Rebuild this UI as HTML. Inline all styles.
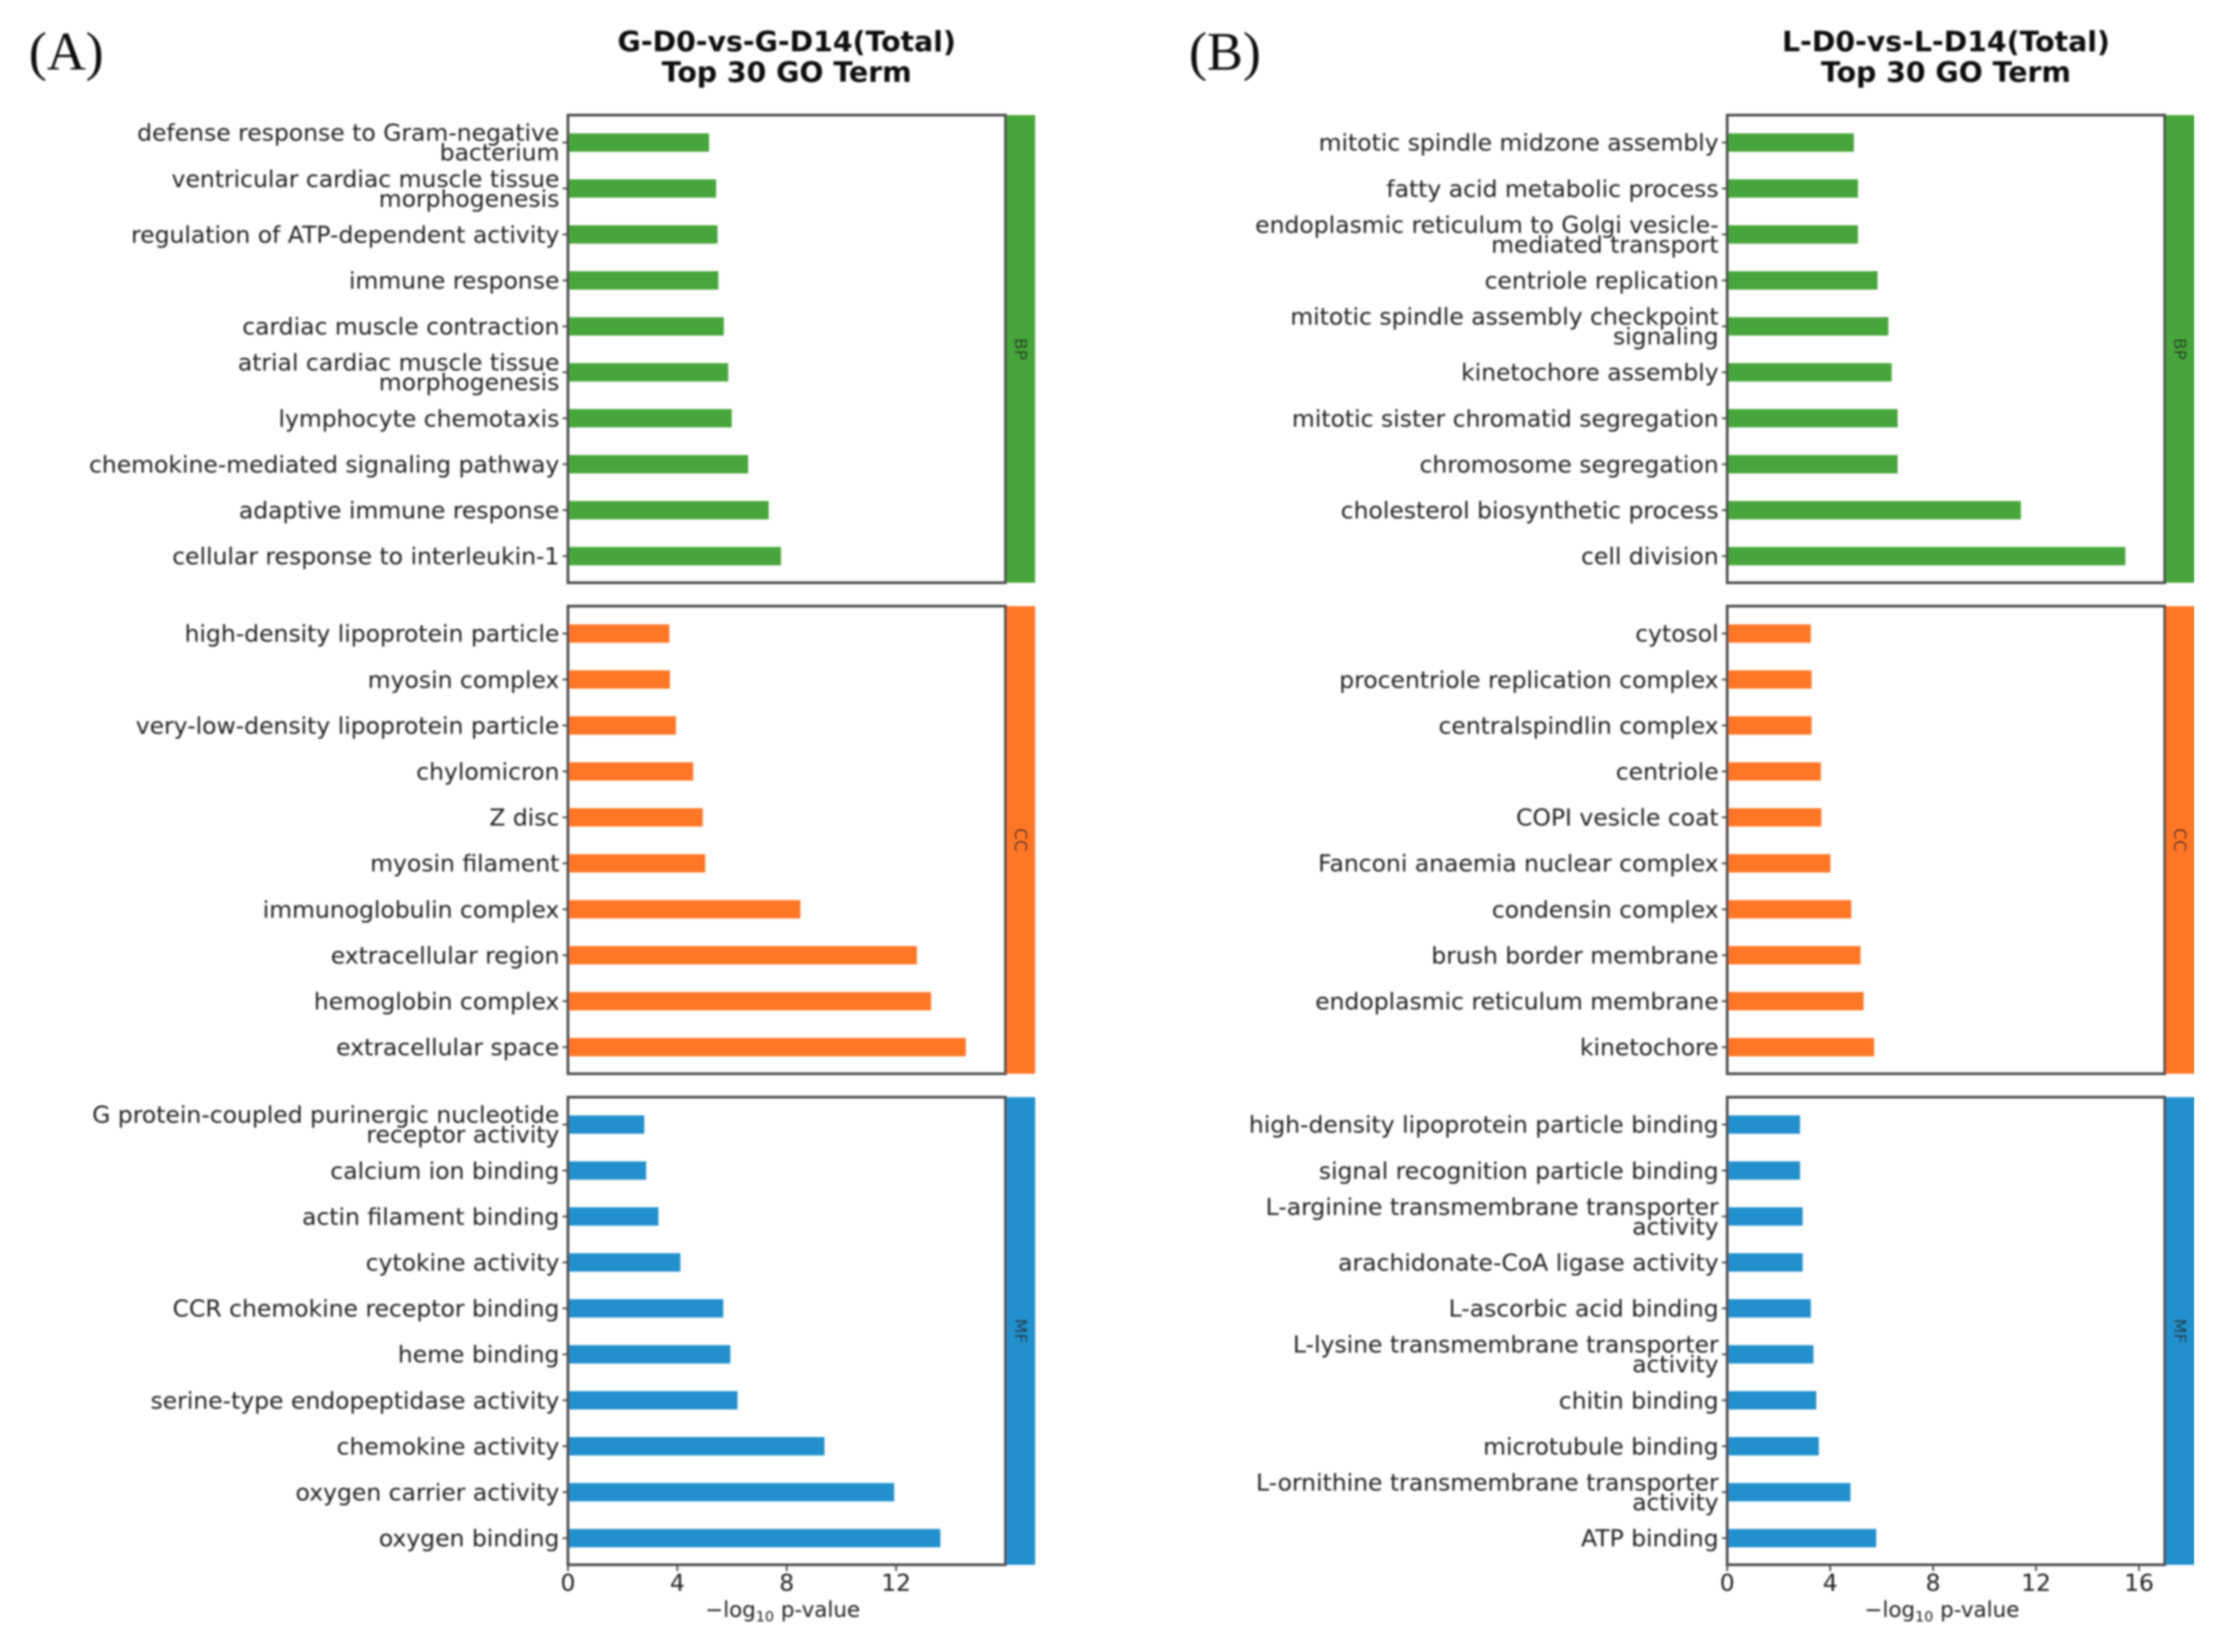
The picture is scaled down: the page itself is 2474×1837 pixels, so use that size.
<!DOCTYPE html>
<html lang="en">
<head>
<meta charset="utf-8">
<title>Top 30 GO Term comparison</title>
<style>
html,body{margin:0;padding:0;background:#fff;width:2474px;height:1837px;overflow:hidden}
svg{display:block}
text{font-family:"DejaVu Sans","Liberation Sans",sans-serif;fill:#222}
</style>
</head>
<body>
<svg id="figure" xmlns="http://www.w3.org/2000/svg" width="2474" height="1837" viewBox="0 0 2474 1837">
<defs><filter id="soft" x="0" y="0" width="100%" height="100%" filterUnits="objectBoundingBox"><feGaussianBlur stdDeviation="0.95"/></filter></defs>
<rect width="2474" height="1837" fill="#fff"/>
<g id="root" filter="url(#soft)"></g>
</svg>
<script>
// Terms and values, listed top to bottom. "|" marks a wrapped label line.
const aBpTerms = ["defense response to Gram-negative|bacterium","ventricular cardiac muscle tissue|morphogenesis","regulation of ATP-dependent activity","immune response","cardiac muscle contraction","atrial cardiac muscle tissue|morphogenesis","lymphocyte chemotaxis","chemokine-mediated signaling pathway","adaptive immune response","cellular response to interleukin-1"];
const aBpValues = [5.16,5.42,5.47,5.5,5.7,5.86,5.99,6.59,7.34,7.79];
const aCcTerms = ["high-density lipoprotein particle","myosin complex","very-low-density lipoprotein particle","chylomicron","Z disc","myosin filament","immunoglobulin complex","extracellular region","hemoglobin complex","extracellular space"];
const aCcValues = [3.71,3.73,3.95,4.58,4.93,5.02,8.5,12.76,13.28,14.55];
const aMfTerms = ["G protein-coupled purinergic nucleotide|receptor activity","calcium ion binding","actin filament binding","cytokine activity","CCR chemokine receptor binding","heme binding","serine-type endopeptidase activity","chemokine activity","oxygen carrier activity","oxygen binding"];
const aMfValues = [2.79,2.86,3.31,4.11,5.68,5.94,6.2,9.38,11.93,13.62];
const bBpTerms = ["mitotic spindle midzone assembly","fatty acid metabolic process","endoplasmic reticulum to Golgi vesicle-|mediated transport","centriole replication","mitotic spindle assembly checkpoint|signaling","kinetochore assembly","mitotic sister chromatid segregation","chromosome segregation","cholesterol biosynthetic process","cell division"];
const bBpValues = [4.92,5.08,5.08,5.84,6.26,6.39,6.62,6.62,11.41,15.47];
const bCcTerms = ["cytosol","procentriole replication complex","centralspindlin complex","centriole","COPI vesicle coat","Fanconi anaemia nuclear complex","condensin complex","brush border membrane","endoplasmic reticulum membrane","kinetochore"];
const bCcValues = [3.25,3.28,3.28,3.64,3.66,4.01,4.82,5.18,5.3,5.71];
const bMfTerms = ["high-density lipoprotein particle binding","signal recognition particle binding","L-arginine transmembrane transporter|activity","arachidonate-CoA ligase activity","L-ascorbic acid binding","L-lysine transmembrane transporter|activity","chitin binding","microtubule binding","L-ornithine transmembrane transporter|activity","ATP binding"];
const bMfValues = [2.83,2.83,2.93,2.93,3.25,3.35,3.46,3.56,4.79,5.79];
const aTicks = [0,4,8,12];
const bTicks = [0,4,8,12,16];
const aXMax = 16;
const bXMax = 17;
const aTitle = ["G-D0-vs-G-D14(Total)","Top 30 GO Term"];
const bTitle = ["L-D0-vs-L-D14(Total)","Top 30 GO Term"];

const NS = "http://www.w3.org/2000/svg";
const root = document.getElementById("root");
const COLORS = {BP:"#47a63a",CC:"#ff7726",MF:"#2090cc"};
const FRAME = "#4d4d4d";
const ROW_TOP = {BP:128,CC:674,MF:1220};
const ROW_H = 520;
const BAR_STEP = 51.1;
const BAR_H = 20.4;

function make(tag, attrs, text){
  const el = document.createElementNS(NS, tag);
  for (const k in attrs) el.setAttribute(k, attrs[k]);
  if (text !== undefined) el.textContent = text;
  root.appendChild(el);
  return el;
}
function xAxis(left, right, max){ return v => left + (v / max) * (right - left); }
function yAxis(top){ return i => top + 30.5 + i * BAR_STEP; }
function slug(s){ return s.replace(/\|/g," ").toLowerCase().replace(/[^a-z0-9]+/g,"-").replace(/^-|-$/g,""); }

function drawRow(p, key, terms, values){
  const top = ROW_TOP[key];
  const x = xAxis(p.left, p.right, p.max);
  const y = yAxis(top);
  const strip = make("rect",{x:p.right,y:top,width:p.stripRight-p.right,height:ROW_H,fill:COLORS[key]});
  
  
  const cy = top + ROW_H/2 - 0;
  const sx = (p.right + p.stripRight)/2;
  const sl = make("text",{x:sx,y:cy,"font-size":19,"text-anchor":"middle","dominant-baseline":"central",transform:"rotate(90 "+sx+" "+cy+")"},key);
  
  
  terms.forEach((term,i)=>{
    const yc = y(i);
    const bar = make("rect",{x:x(0),y:yc-BAR_H/2,width:x(values[i])-x(0),height:BAR_H,fill:COLORS[key]});
    
    
    const tick = make("line",{x1:p.left-6,x2:p.left,y1:yc,y2:yc,stroke:FRAME,"stroke-width":2});
    
    
    const lines = term.split("|");
    lines.forEach((ln,j)=>{
      const ly = yc + (j - (lines.length-1)/2) * 22;
      const t = make("text",{x:p.left-9.5,y:ly+1.2,"font-size":26.1,"text-anchor":"end","dominant-baseline":"central"},ln);
      
      
    });
  });
  const frame = make("rect",{x:p.left,y:top,width:p.right-p.left,height:ROW_H,fill:"none",stroke:FRAME,"stroke-width":3});
  
  
}

function drawPanel(p){
  drawRow(p,"BP",p.bp[0],p.bp[1]);
  drawRow(p,"CC",p.cc[0],p.cc[1]);
  drawRow(p,"MF",p.mf[0],p.mf[1]);
  const x = xAxis(p.left,p.right,p.max);
  const bottom = ROW_TOP.MF + ROW_H;
  p.ticks.forEach(v=>{
    const tk = make("line",{x1:x(v),x2:x(v),y1:bottom,y2:bottom+7,stroke:FRAME,"stroke-width":2});
    
    
    const tl = make("text",{x:x(v),y:bottom+21,"font-size":26,"text-anchor":"middle","dominant-baseline":"central"},String(v));
    
    
  });
  const cx = (p.left+p.right)/2;
  const xl = make("text",{x:cx-4.5,y:1798,"font-size":23.8,"text-anchor":"middle"});
  
  
  const a = document.createElementNS(NS,"tspan"); a.textContent="\u2212log"; xl.appendChild(a);
  const b = document.createElementNS(NS,"tspan"); b.textContent="10"; b.setAttribute("font-size","16"); b.setAttribute("dy","5"); xl.appendChild(b);
  const c = document.createElementNS(NS,"tspan"); c.textContent=" p-value"; c.setAttribute("dy","-5"); xl.appendChild(c);
  p.title.forEach((line,i)=>{
    const t = make("text",{x:cx,y:47+i*34,"font-size":31.5,"font-weight":"bold","text-anchor":"middle","dominant-baseline":"central"},line);
    t.style.fill = "#111";
    
    
  });
  const tag = make("text",{x:p.tagX,y:77.5,"font-size":60},p.tag);
  tag.style.fontFamily = '"Liberation Serif",serif';
  tag.style.fill = "#111";
  
  
}

drawPanel({id:"panel-a",tag:"(A)",tagX:32,left:631.5,right:1118,stripRight:1151,max:aXMax,ticks:aTicks,title:aTitle,bp:[aBpTerms,aBpValues],cc:[aCcTerms,aCcValues],mf:[aMfTerms,aMfValues]});
drawPanel({id:"panel-b",tag:"(B)",tagX:1322,left:1920.5,right:2407,stripRight:2440,max:bXMax,ticks:bTicks,title:bTitle,bp:[bBpTerms,bBpValues],cc:[bCcTerms,bCcValues],mf:[bMfTerms,bMfValues]});
</script>
</body>
</html>
